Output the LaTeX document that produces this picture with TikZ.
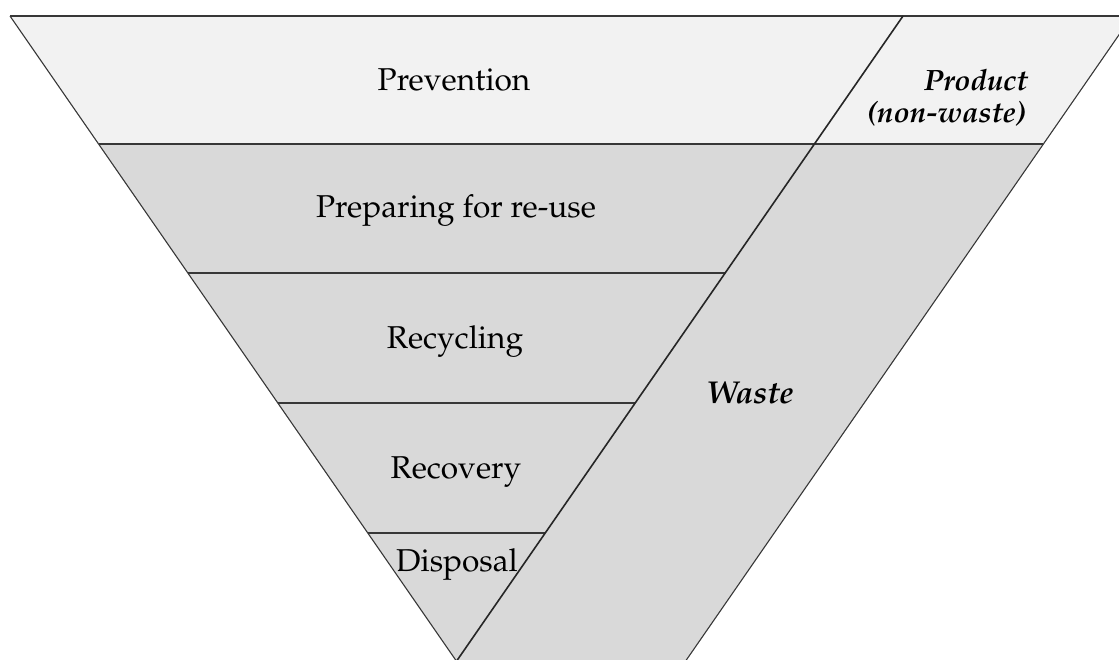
\documentclass[tikz,border=0pt]{standalone}
\usepackage[T1]{fontenc}
\usepackage{mathpazo}
\definecolor{lightfill}{RGB}{242,242,242}
\definecolor{grayfill}{RGB}{217,217,217}
\definecolor{edge}{RGB}{55,55,55}
\tikzset{
  lbl/.style={anchor=base, inner sep=0pt, font=\fontsize{31.6}{38}\selectfont},
  blbl/.style={lbl, font=\fontsize{31.6}{38}\selectfont\bfseries\itshape},
  plbl/.style={lbl, anchor=base east, font=\fontsize{29.4}{35}\selectfont\bfseries\itshape},
  thinedge/.style={draw=edge, line width=1.1pt},
  tier/.style={draw=edge, line width=2.2pt},
  divider/.style={draw=black!85, line width=1.6pt}
}
\begin{document}
\begin{tikzpicture}[x=1pt,y=-1pt]
\useasboundingbox (0,0) rectangle (1119,659);
\clip (0,0) rectangle (1119,659);
% fills
\fill[lightfill] (10,16) -- (903,16) -- (814.4,144) -- (98.6,144) -- cycle;
\fill[lightfill] (903,16) -- (1132,16) -- (1043.4,144) -- (814.4,144) -- cycle;
\fill[grayfill] (98.6,144) -- (1043.4,144) -- (685.5,661.2) -- (456.5,661.2) -- cycle;
% outline
\draw[thinedge] (10,16) -- (1132,16);
\draw[thinedge] (10,16) -- (456.5,661.2);
\draw[thinedge] (1132,16) -- (685.5,661.2);
% tiers
\draw[tier] (98.6,144) -- (1043.4,144);
\draw[tier] (187.9,273) -- (725.1,273);
\draw[tier] (277.8,403) -- (635.2,403);
\draw[tier] (367.8,533) -- (545.2,533);
% product / waste divider
\draw[divider] (903,16) -- (456.5,661.2);
% labels
\node[lbl] (prev) at (454,90) {Prevention};
\node[lbl] (prep) at (456,217) {Preparing for re-use};
\node[lbl] (recy) at (455,348) {Recycling};
\node[lbl] (recov) at (456,478) {Recovery};
\node[lbl] (disp) at (457,571) {Disposal};
\node[blbl] (waste) at (750,403) {Waste};
\node[plbl] (prod) at (1028,90) {Product};
\node[plbl] (nonw) at (1026,122) {(non-waste)};
\end{tikzpicture}
\end{document}
